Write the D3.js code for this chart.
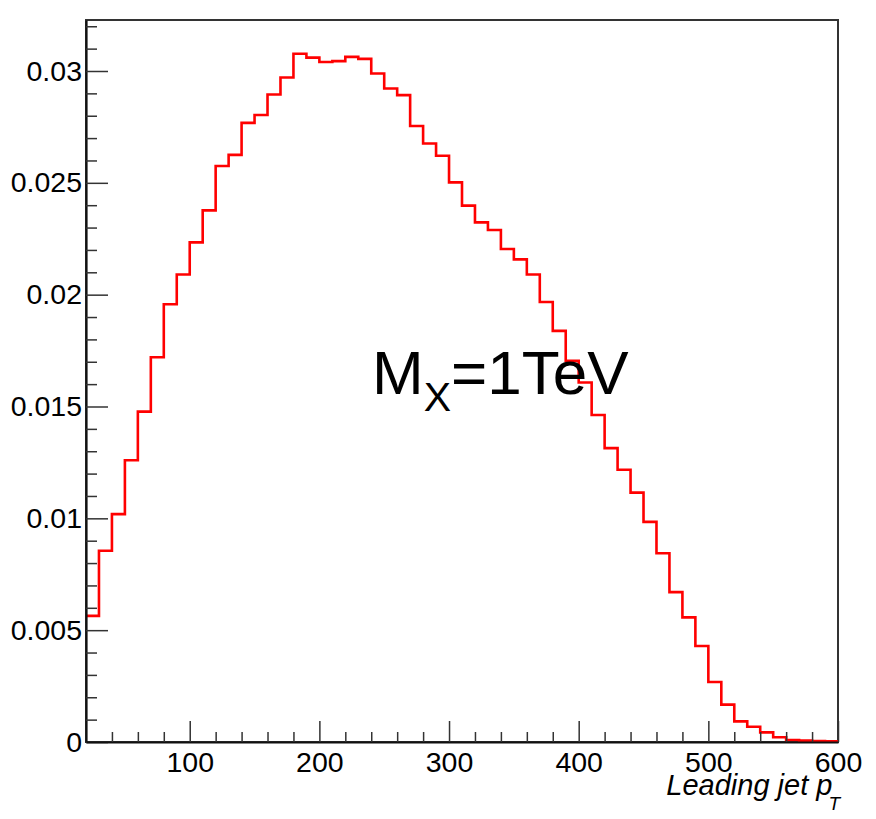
<!DOCTYPE html>
<html>
<head>
<meta charset="utf-8">
<script src="https://cdn.jsdelivr.net/npm/d3@7"></script>
<style>
  body { margin: 0; background: #fff; }
  text { font-family: "Liberation Sans", Arial, sans-serif; }
</style>
</head>
<body>
<div id="chart"></div>
<script>
// Bin lower edges (width 10) and normalised content
const binLow = [20, 30, 40, 50, 60, 70, 80, 90, 100, 110, 120, 130, 140, 150, 160, 170, 180, 190,
  200, 210, 220, 230, 240, 250, 260, 270, 280, 290, 300, 310, 320, 330, 340, 350, 360, 370, 380, 390,
  400, 410, 420, 430, 440, 450, 460, 470, 480, 490, 500, 510, 520, 530, 540, 550, 560, 570, 580, 590];
const binValues = [0.00564, 0.00855, 0.01019, 0.01260, 0.01477, 0.01720, 0.01957, 0.02090, 0.02234, 0.02377,
  0.02575, 0.02625, 0.02768, 0.02803, 0.02895, 0.02971, 0.03077, 0.03060, 0.03040, 0.03044,
  0.03063, 0.03054, 0.02989, 0.02922, 0.02892, 0.02754, 0.02676, 0.02621, 0.02502, 0.02398,
  0.02323, 0.02289, 0.02204, 0.02158, 0.02090, 0.01967, 0.01838, 0.01704, 0.01607, 0.01462,
  0.01314, 0.01217, 0.01115, 0.00984, 0.00844, 0.00670, 0.00557, 0.00429, 0.00268, 0.00167,
  0.00092, 0.00068, 0.00043, 0.00021, 0.00009, 0.00006, 0.00004, 0.00003];
const binWidth = 10;

const xTicks = [100, 200, 300, 400, 500, 600];
const xTickLabels = ["100", "200", "300", "400", "500", "600"];
const xMinorTicks = [40, 60, 80, 120, 140, 160, 180, 220, 240, 260, 280, 320, 340, 360, 380,
  420, 440, 460, 480, 520, 540, 560, 580];
const yTicks = [0, 0.005, 0.01, 0.015, 0.02, 0.025, 0.03];
const yTickLabels = ["0", "0.005", "0.01", "0.015", "0.02", "0.025", "0.03"];
const yMinorTicks = [0.001, 0.002, 0.003, 0.004, 0.006, 0.007, 0.008, 0.009, 0.011, 0.012, 0.013, 0.014,
  0.016, 0.017, 0.018, 0.019, 0.021, 0.022, 0.023, 0.024, 0.026, 0.027, 0.028, 0.029, 0.031, 0.032];

// Dimensions
const width = 876,
    height = 819,
    margin = {top: 20, right: 38, bottom: 77, left: 86};

const svg = d3.select("#chart")
  .append("svg")
  .attr("width", width)
  .attr("height", height);

svg.append("rect").attr("width", width).attr("height", height).attr("fill", "#fff");

const x = d3.scaleLinear()
  .domain([20, 600])
  .range([margin.left, width - margin.right]);

const y = d3.scaleLinear()
  .domain([0, 0.03228])
  .range([height - margin.bottom, margin.top]);

// Frame
svg.append("rect")
  .attr("x", x(20))
  .attr("y", y(0.03228))
  .attr("width", x(600) - x(20))
  .attr("height", y(0) - y(0.03228))
  .attr("fill", "none")
  .attr("stroke", "#333")
  .attr("stroke-width", 2);

// Histogram (step line)
const pts = binLow.map((b, i) => [b, binValues[i]]);
pts.push([binLow[binLow.length - 1] + binWidth, binValues[binValues.length - 1]]);

const line = d3.line()
  .x(d => x(d[0]))
  .y(d => y(d[1]))
  .curve(d3.curveStepAfter);

svg.append("path")
  .datum(pts)
  .attr("d", line)
  .attr("fill", "none")
  .attr("stroke", "#ff0000")
  .attr("stroke-width", 2.6);

// Y axis
svg.append("g")
  .attr("transform", `translate(${x(20)},0)`)
  .call(d3.axisLeft(y)
    .tickValues(yTicks)
    .tickFormat((d, i) => yTickLabels[i])
    .tickSizeInner(-22)
    .tickSizeOuter(0)
    .tickPadding(4));

svg.append("g")
  .attr("transform", `translate(${x(20)},0)`)
  .call(d3.axisLeft(y)
    .tickValues(yMinorTicks)
    .tickFormat("")
    .tickSizeInner(-11)
    .tickSizeOuter(0))
  .call(g => g.select(".domain").remove());

// X axis
svg.append("g")
  .attr("transform", `translate(0,${y(0)})`)
  .call(d3.axisBottom(x)
    .tickValues(xTicks)
    .tickFormat((d, i) => xTickLabels[i])
    .tickSizeInner(-21)
    .tickSizeOuter(0)
    .tickPadding(10));

svg.append("g")
  .attr("transform", `translate(0,${y(0)})`)
  .call(d3.axisBottom(x)
    .tickValues(xMinorTicks)
    .tickFormat("")
    .tickSizeInner(-10)
    .tickSizeOuter(0))
  .call(g => g.select(".domain").remove());

svg.selectAll(".tick line").attr("stroke", "#333").attr("stroke-width", 1.5);
svg.selectAll(".domain").attr("stroke", "#111").attr("stroke-width", 2.2);
svg.selectAll(".tick text")
  .attr("fill", "#000")
  .style("font-family", "'Liberation Sans', Arial, sans-serif")
  .style("font-size", "28.5px");

// Axis title
const xTitle = svg.append("text")
  .attr("x", 840)
  .attr("y", 795)
  .attr("text-anchor", "end")
  .style("font-size", "29px")
  .style("font-style", "italic")
  .attr("fill", "#000");
xTitle.append("tspan").text("Leading jet p");
xTitle.append("tspan").attr("dx", -4).attr("dy", 15).style("font-size", "19px").text("T");

// Annotation
const note = svg.append("text")
  .attr("x", 372)
  .attr("y", 394)
  .style("font-size", "62px")
  .attr("fill", "#000");
note.append("tspan").text("M");
note.append("tspan").attr("dy", 17).style("font-size", "41px").text("X");
note.append("tspan").attr("dy", -17).text("=1TeV");
</script>
</body>
</html>
